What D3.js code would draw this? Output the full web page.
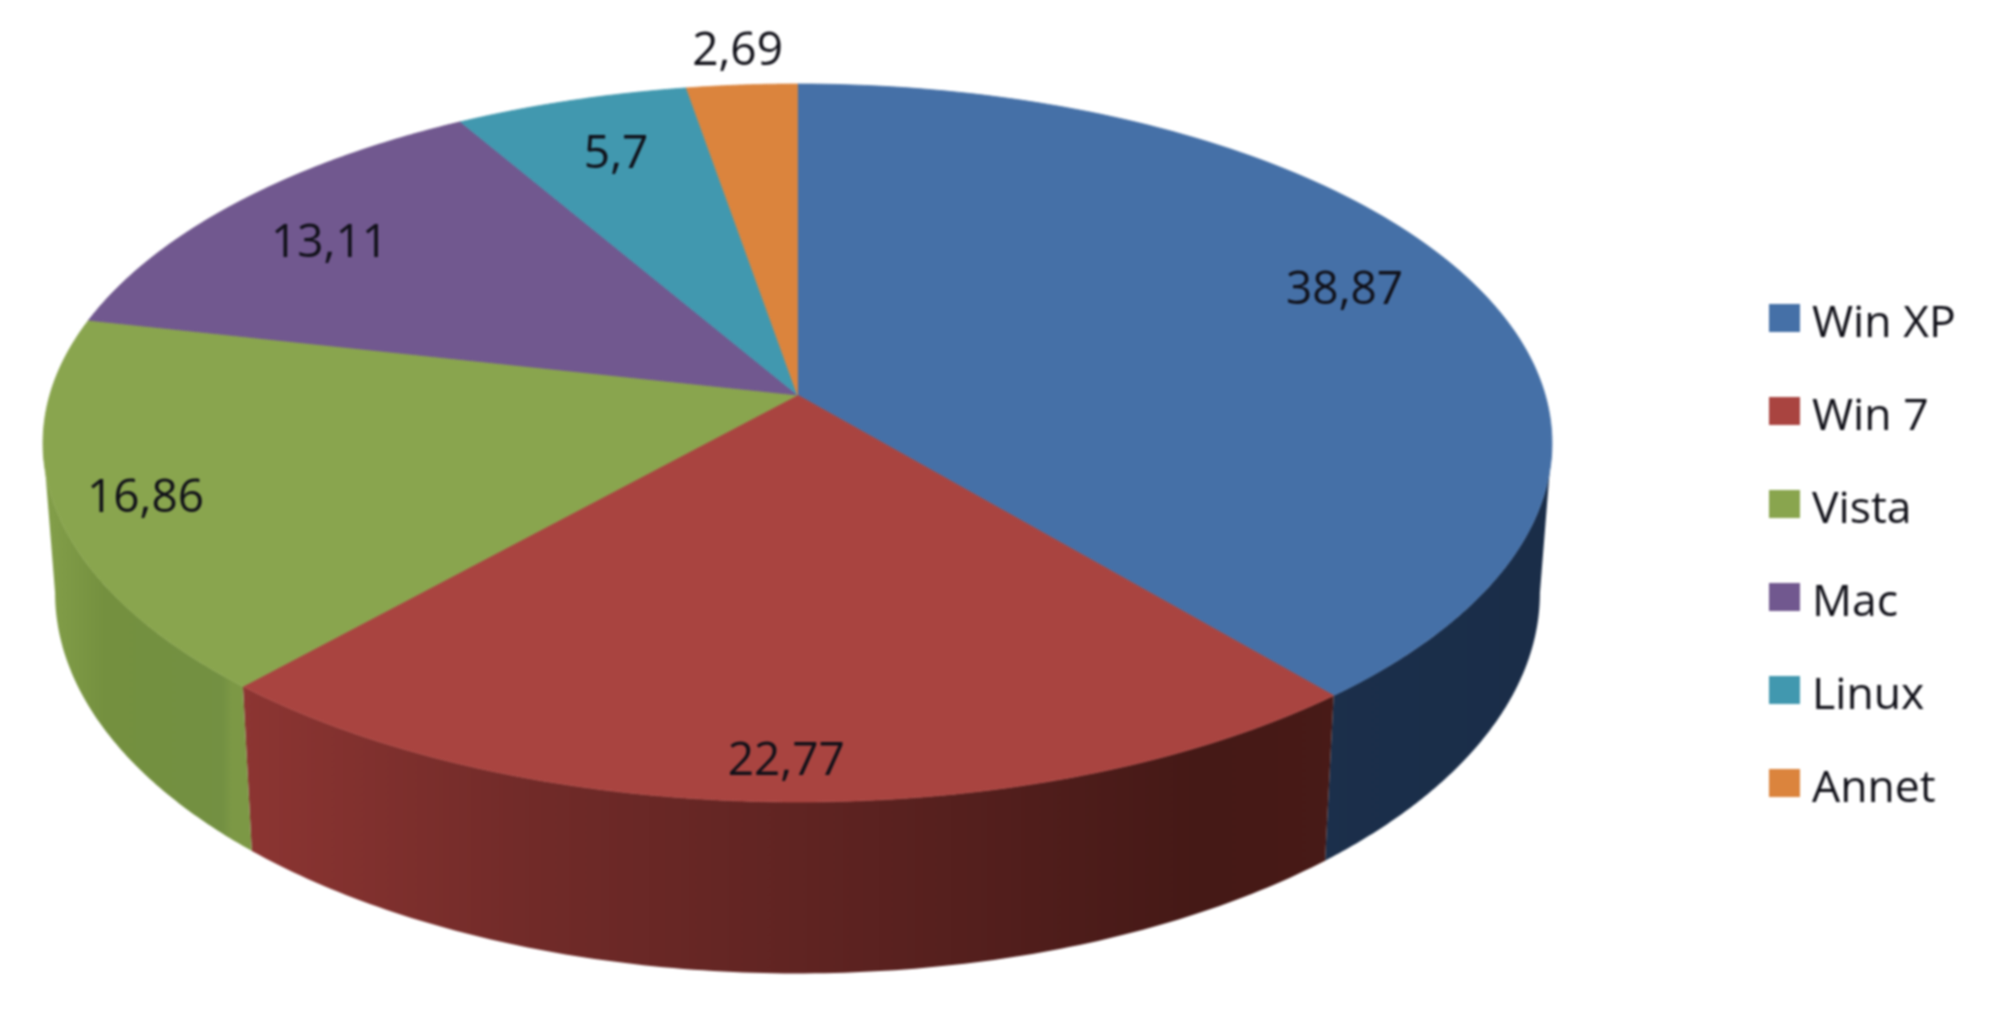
<!DOCTYPE html>
<html>
<head>
<meta charset="utf-8">
<script src="https://cdn.jsdelivr.net/npm/d3@7/dist/d3.min.js"></script>
<style>
html,body{margin:0;padding:0;background:#fff;overflow:hidden}
svg{display:block;filter:blur(0.8px)}
text{font-family:"Open Sans",sans-serif;fill:#101018;font-weight:500}
</style>
</head>
<body>
<svg id="chart" width="2000" height="1034"></svg>
<script>
// ---- data ----
const categories = ["Win XP", "Win 7", "Vista", "Mac", "Linux", "Annet"];
const shares = [38.87, 22.77, 16.86, 13.11, 5.7, 2.69];
const shareLabels = ["38,87", "22,77", "16,86", "13,11", "5,7", "2,69"];
const topColors = ["#4570a7", "#a94440", "#89a54e", "#71588f", "#4198af", "#db843d"];

// ---- layout (not data) ----
const W = 2000, H = 1034;
const cx = 797.5, apexY = 395;       // apex of the slices on the top face
const persp = -0.1337;               // perspective term
const rU = 747.7, rV = 352.6;        // projective radii
const baseSX = 0.984, baseSY = 1.06, baseApexY = 542; // lower rim relative to the top rim
// label placement per slice: radius fraction, then pixel nudge
const labelR  = [0.8, 0.9, 0.88, 0.8, 0.8, 1.15];
const labelDX = [5, 1, -2, -14, 4, 3];
const labelDY = [-16, 1, 1, 1, -4, 2];

const svg = d3.select("#chart");
const defs = svg.append("defs");

const pie = d3.pie().value(d => d).sort(null);
const arcs = pie(shares);

// circle (r, angle clockwise from north) -> top face pixel
function project(r, a) {
  const u = r * Math.sin(a), v = -r * Math.cos(a);
  const d = 1 + persp * v;
  return [cx + rU * u / d, apexY + rV * v / d];
}
const toBase = ([x, y]) => [cx + baseSX * (x - cx), baseApexY + baseSY * (y - apexY)];
const line = d3.line();

const sample = (a0, a1) => d3.range(0, 121).map(i => a0 + (a1 - a0) * i / 120);
const rimAngles = s => sample(s.startAngle, s.endAngle);

// the visible front of the rim runs between the two widest points of the ellipse
const frontStart = Math.acos(persp), frontEnd = 2 * Math.PI - frontStart;
const frontArcs = arcs
  .map((s, i) => ({ i, a0: Math.max(s.startAngle, frontStart), a1: Math.min(s.endAngle, frontEnd) }))
  .filter(d => d.a1 > d.a0);

// ---- wall gradients ----
const wallStops = [
  [[1320, "#1b2f4b"], [1560, "#1a2d48"]],
  [[244, "#8c3532"], [520, "#722b29"], [800, "#602422"], [1050, "#4f1d1b"], [1200, "#451916"], [1333, "#481a17"]],
  [[40, "#84a04a"], [105, "#74903f"], [222, "#739042"], [232, "#7c9845"], [252, "#7c9845"]]
];
wallStops.forEach((stops, i) => {
  const g = defs.append("linearGradient").attr("id", "wall" + i)
    .attr("gradientUnits", "userSpaceOnUse")
    .attr("x1", stops[0][0]).attr("x2", stops[stops.length - 1][0]).attr("y1", 0).attr("y2", 0);
  const span = stops[stops.length - 1][0] - stops[0][0];
  stops.forEach(s => g.append("stop").attr("offset", (s[0] - stops[0][0]) / span).attr("stop-color", s[1]));
});

// ---- walls ----
svg.append("g").selectAll("path").data(frontArcs).join("path")
  .attr("d", d => {
    const top = sample(d.a0, d.a1).map(a => project(1, a));
    const bottom = top.map(toBase).reverse();
    return line(top.concat(bottom)) + "Z";
  })
  .attr("fill", d => `url(#wall${d.i})`);

// ---- top faces ----
svg.append("g").selectAll("path").data(arcs).join("path")
  .attr("d", s => line([[cx, apexY]].concat(rimAngles(s).map(a => project(1, a)))) + "Z")
  .attr("fill", (s, i) => topColors[i])
  .attr("stroke", (s, i) => topColors[i]).attr("stroke-width", 0.8);

// ---- value labels ----
svg.append("g").selectAll("text").data(arcs).join("text")
  .attr("x", (s, i) => project(labelR[i], (s.startAngle + s.endAngle) / 2)[0] + labelDX[i])
  .attr("y", (s, i) => project(labelR[i], (s.startAngle + s.endAngle) / 2)[1] + labelDY[i])
  .attr("text-anchor", "middle").attr("dominant-baseline", "central")
  .attr("font-size", 46)
  .text((s, i) => shareLabels[i]);

// ---- legend ----
const legendY = d3.scalePoint().domain(categories).range([318, 783]);
const legend = svg.append("g").selectAll("g").data(categories).join("g")
  .attr("transform", d => `translate(1769,${legendY(d)})`);
legend.append("rect").attr("x", 0).attr("y", -14).attr("width", 31).attr("height", 28)
  .attr("fill", (d, i) => topColors[i]);
legend.append("text").attr("x", 43).attr("y", 1)
  .attr("dominant-baseline", "central").attr("font-size", 44.5)
  .text(d => d);
</script>
</body>
</html>
